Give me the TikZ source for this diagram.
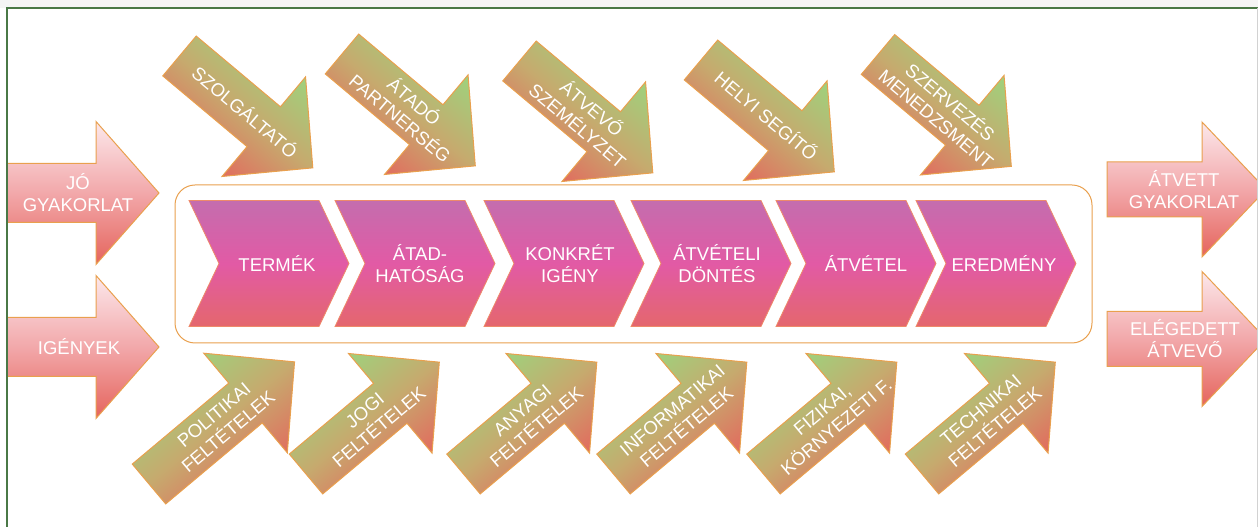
\documentclass[tikz,border=0pt]{standalone}
\usepackage{fontspec}
\newfontfamily\arialfont{Liberation Sans}

\definecolor{framegreen}{HTML}{4A7846}
\definecolor{rim}{HTML}{E9A04E}
\definecolor{blush}{HTML}{FCE8EB}
\definecolor{rosy}{HTML}{F2A8AA}
\definecolor{salmon}{HTML}{E5645C}
\definecolor{mauve}{HTML}{C46DAE}
\definecolor{hotpink}{HTML}{E25AA5}
\definecolor{coral}{HTML}{E4676D}
\definecolor{chevrim}{HTML}{EE8A6A}
\definecolor{leaf}{HTML}{9AD67E}
\definecolor{khaki}{HTML}{C6AA6E}

\tikzset{
  lbl/.style={text=white, font=\arialfont\fontsize{18.5}{22}\selectfont, align=center, inner sep=0pt},
  flowbox/.style={draw=rim, line width=1pt, top color=blush, bottom color=salmon, middle color=rosy},
  chevbox/.style={draw=chevrim, line width=.8pt, top color=mauve, bottom color=coral, middle color=hotpink},
  tiltbox/.style={draw=rim, line width=1pt, top color=leaf, bottom color=salmon, middle color=khaki},
}

\newcommand{\tiltarrow}[5]{%
  \begin{scope}[shift={#1},rotate=#2]
    \shade[tiltbox, shading angle=#2] (0,26) -- (#3,26) -- (#3,65) -- ({#3+64},0) -- (#3,-65) -- (#3,-26) -- (0,-26) -- cycle;
    \node[lbl,transform shape] (#4) at ({#3/2+31},0) {#5};
  \end{scope}}

\begin{document}
\begin{tikzpicture}[x=1pt,y=1pt]
    \useasboundingbox (0,0) rectangle (1258,527);
    \fill[gray!8] (0,519) rectangle (1258,527);

    \draw[rim, line width=1pt, fill=white, rounded corners=20pt] (175,184) rectangle (1092,342);

    \shade[chevbox] (189,200.5) -- ++(130,0) -- ++(30,63) -- ++(-30,63) -- ++(-130,0) -- ++(30,-63) -- cycle;
    \shade[chevbox] (335,200.5) -- ++(130,0) -- ++(30,63) -- ++(-30,63) -- ++(-130,0) -- ++(30,-63) -- cycle;
    \shade[chevbox] (484,200.5) -- ++(130,0) -- ++(30,63) -- ++(-30,63) -- ++(-130,0) -- ++(30,-63) -- cycle;
    \shade[chevbox] (631,200.5) -- ++(130,0) -- ++(30,63) -- ++(-30,63) -- ++(-130,0) -- ++(30,-63) -- cycle;
    \shade[chevbox] (776,200.5) -- ++(130,0) -- ++(30,63) -- ++(-30,63) -- ++(-130,0) -- ++(30,-63) -- cycle;
    \shade[chevbox] (916,200.5) -- ++(130,0) -- ++(30,63) -- ++(-30,63) -- ++(-130,0) -- ++(30,-63) -- cycle;

    \node[lbl] (termek) at (277,263.5) {TERMÉK};
    \node[lbl] (atad) at (420,263.5) {ÁTAD-\\HATÓSÁG};
    \node[lbl] (igeny) at (570,263.5) {KONKRÉT\\IGÉNY};
    \node[lbl] (dontes) at (717,263.5) {ÁTVÉTELI\\DÖNTÉS};
    \node[lbl] (atvetel) at (866,263.5) {ÁTVÉTEL};
    \node[lbl] (eredmeny) at (1004,263.5) {EREDMÉNY};

    \shade[flowbox] (7,304.5) -- (96,304.5) -- (96,262.5) -- (159,334) -- (96,405.5) -- (96,363.5) -- (7,363.5) -- cycle;
    \shade[flowbox] (7,150.5) -- (96,150.5) -- (96,108.5) -- (159,180) -- (96,251.5) -- (96,209.5) -- (7,209.5) -- cycle;
    \node[lbl] (jo) at (78,334) {JÓ\\GYAKORLAT};
    \node[lbl] (igenyek) at (79,180) {IGÉNYEK};

    \shade[flowbox] (1107,310) -- (1202,310) -- (1202,270) -- (1266,337.5) -- (1202,405) -- (1202,365) -- (1107,365) -- cycle;
    \shade[flowbox] (1107,160.5) -- (1202,160.5) -- (1202,120.5) -- (1266,188) -- (1202,255.5) -- (1202,215.5) -- (1107,215.5) -- cycle;
    \node[lbl] (atvett) at (1184,337.5) {ÁTVETT\\GYAKORLAT};
    \node[lbl] (elegedett) at (1185,188) {ELÉGEDETT\\ÁTVEVŐ};

    \tiltarrow{(179.5,471)}{-40}{110}{szolg}{SZOLGÁLTATÓ}
    \tiltarrow{(342,473)}{-40}{110}{partner}{ÁTADÓ\\PARTNERSÉG}
    \tiltarrow{(519.5,466)}{-40}{110}{szemely}{ÁTVEVŐ\\SZEMÉLYZET}
    \tiltarrow{(701,467)}{-40}{110}{segito}{HELYI SEGÍTŐ}
    \tiltarrow{(878,472.5)}{-40}{110}{menedzs}{SZERVEZÉS\\MENEDZSMENT}

    \tiltarrow{(149,43)}{40}{126}{politikai}{POLITIKAI\\FELTÉTELEK}
    \tiltarrow{(306,53)}{40}{110}{jogi}{JOGI\\FELTÉTELEK}
    \tiltarrow{(463.5,53)}{40}{110}{anyagi}{ANYAGI\\FELTÉTELEK}
    \tiltarrow{(613.5,53)}{40}{110}{info}{INFORMATIKAI\\FELTÉTELEK}
    \tiltarrow{(763.5,53)}{40}{110}{fizikai}{FIZIKAI,\\KÖRNYEZETI F.}
    \tiltarrow{(922,53)}{40}{110}{technikai}{TECHNIKAI\\FELTÉTELEK}

    \draw[framegreen, line width=2pt] (6.5,0) -- (6.5,519) -- (1258,519);
    \draw[gray!35] (1257.5,0) -- (1257.5,519);
\end{tikzpicture}
\end{document}
